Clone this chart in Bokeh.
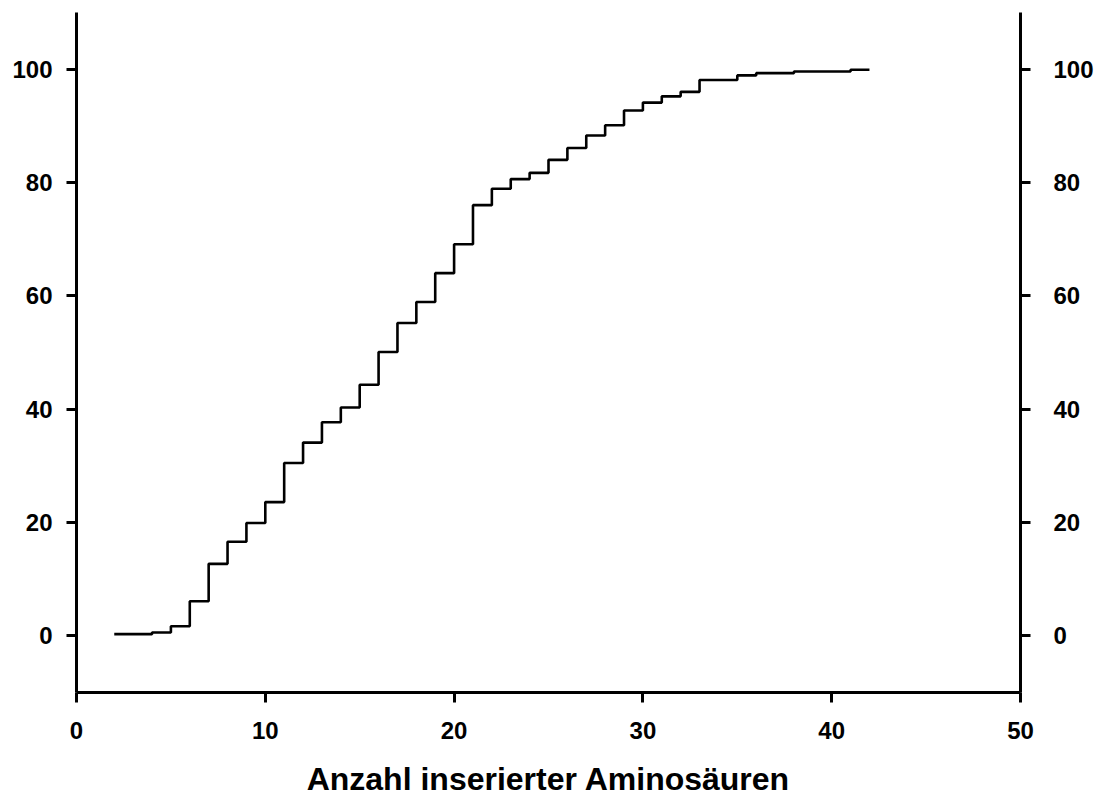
from bokeh.plotting import figure
from bokeh.models import LinearAxis, FixedTicker, Range1d
from bokeh.embed import file_html
from bokeh.resources import INLINE

# Number of inserted amino acids
inserted = [2, 3, 4, 5, 6, 7, 8, 9, 10, 11, 12, 13, 14, 15, 16, 17, 18, 19, 20, 21,
            22, 23, 24, 25, 26, 27, 28, 29, 30, 31, 32, 33, 34, 35, 36, 37, 38, 39, 40, 41, 42]
# Cumulative percentage
cumulative = [0.3, 0.3, 0.6, 1.7, 6.1, 12.7, 16.6, 19.9, 23.6, 30.5, 34.1, 37.7, 40.3, 44.3,
              50.1, 55.2, 58.9, 64.0, 69.1, 76.0, 78.9, 80.6, 81.7, 84.0, 86.1, 88.3, 90.1,
              92.7, 94.1, 95.2, 96.0, 98.1, 98.1, 98.9, 99.3, 99.3, 99.6, 99.6, 99.6, 99.9, 99.9]

x_ticks = [0, 10, 20, 30, 40, 50]
y_ticks = [0, 20, 40, 60, 80, 100]
x_title = "Anzahl inserierter Aminosäuren"

FONT = "Liberation Sans"

p = figure(frame_width=944, frame_height=680,
           x_range=Range1d(0, 50), y_range=Range1d(-10, 110),
           output_backend="svg", toolbar_location=None,
           x_axis_location="below", y_axis_location="left",
           min_border_left=76, min_border_top=12, min_border_right=80,
           min_border_bottom=60)
p.outline_line_color = None
p.xgrid.visible = False
p.ygrid.visible = False
p.background_fill_color = "white"
p.border_fill_color = "white"

p.step(inserted, cumulative, mode="after", line_color="black", line_width=2.6)

right_axis = LinearAxis()
p.add_layout(right_axis, "right")

def style_axis(ax, ticks, standoff):
    ax.ticker = FixedTicker(ticks=ticks)
    ax.minor_tick_line_color = None
    ax.major_tick_in = 0
    ax.major_tick_out = 10
    ax.major_tick_line_width = 3
    ax.major_tick_line_color = "black"
    ax.axis_line_width = 3
    ax.axis_line_color = "black"
    ax.major_label_text_font = FONT
    ax.major_label_text_font_style = "bold"
    ax.major_label_text_font_size = "24px"
    ax.major_label_text_color = "black"
    ax.major_label_standoff = standoff

style_axis(p.xaxis[0], x_ticks, 19)
style_axis(p.yaxis[0], y_ticks, 14)
style_axis(right_axis, y_ticks, 23)

xa = p.xaxis[0]
xa.axis_label = x_title
xa.axis_label_text_font = FONT
xa.axis_label_text_font_style = "bold"
xa.axis_label_text_font_size = "32px"
xa.axis_label_text_color = "black"
xa.axis_label_standoff = 19

open("out.html", "w").write(file_html(p, INLINE))
